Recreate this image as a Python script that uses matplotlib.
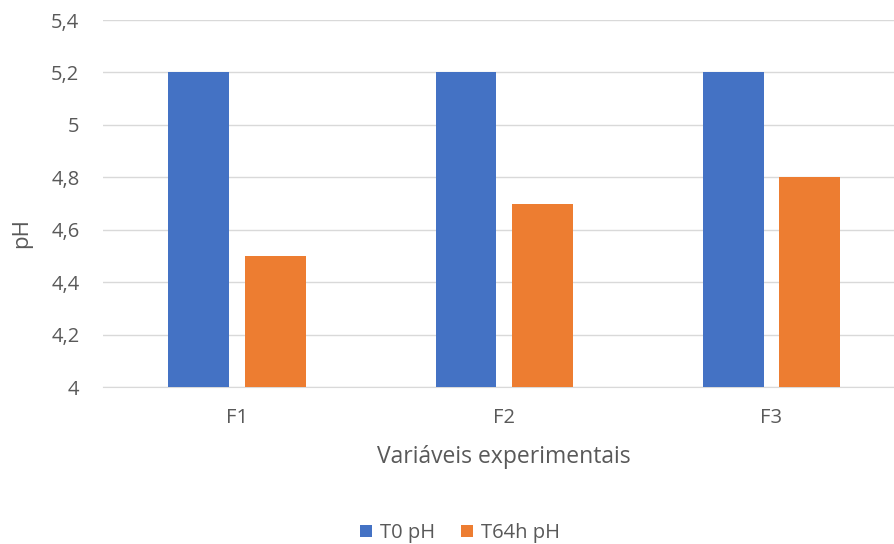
import matplotlib.pyplot as plt
import numpy as np

categories = ['F1', 'F2', 'F3']
t0_ph = [5.2, 5.2, 5.2]
t64_ph = [4.5, 4.7, 4.8]
series_names = ['T0 pH', 'T64h pH']
y_ticks = [4.0, 4.2, 4.4, 4.6, 4.8, 5.0, 5.2, 5.4]

plt.rcParams['font.family'] = ['Open Sans', 'DejaVu Sans']
grey = '#595959'

fig = plt.figure(figsize=(8.94, 5.44), dpi=100)
ax = fig.add_axes([0.1152, 0.2886, 0.897, 0.6746])

x = np.arange(len(categories))
w = 0.228
ax.bar(x - 0.142, [v - 4 for v in t0_ph], w, bottom=4, color='#4472C4', label=series_names[0], zorder=3)
ax.bar(x + 0.144, [v - 4 for v in t64_ph], w, bottom=4, color='#ED7D31', label=series_names[1], zorder=3)

ax.set_xlim(-0.5, 2.5)
ax.set_ylim(4, 5.4)
ax.set_yticks(y_ticks)
ax.set_yticklabels([('%g' % t).replace('.', ',') for t in y_ticks])
ax.set_xticks(x)
ax.set_xticklabels(categories)
ax.tick_params(length=0, labelsize=14.5, colors=grey)
ax.tick_params(axis='x', pad=15)
ax.tick_params(axis='y', pad=17)
ax.grid(axis='y', color='#D9D9D9', linewidth=1, zorder=0)
for s in ['top', 'right', 'left']:
    ax.spines[s].set_visible(False)
ax.spines['bottom'].set_color('#D9D9D9')

ax.set_xlabel('Variáveis experimentais', fontsize=16.5, color=grey, labelpad=12)
fig.text(22 / 894, 1 - 233.5 / 544, 'pH', rotation=90, fontsize=16, color=grey,
         ha='center', va='center')

fig.legend(loc='center', bbox_to_anchor=(460 / 894, 1 - 533 / 544), ncol=2, frameon=False,
           fontsize=14.5, labelcolor=grey, handlelength=0.6, handleheight=0.6,
           columnspacing=1.3, handletextpad=0.4)

fig.savefig('out.png', dpi=100)
